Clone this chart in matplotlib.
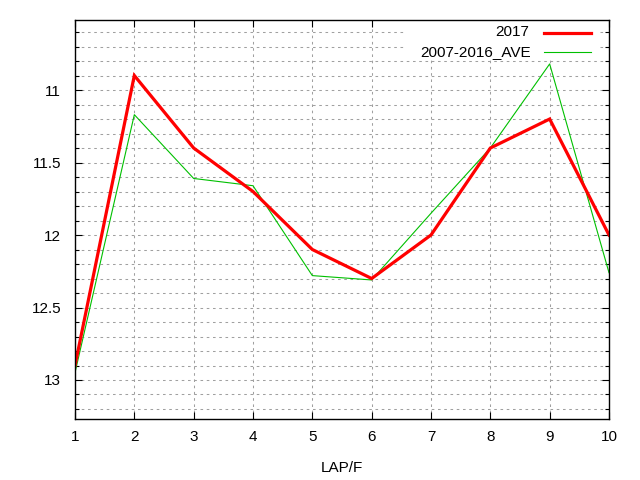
import numpy as np
import matplotlib.pyplot as plt
from matplotlib.ticker import MultipleLocator
from matplotlib.patches import Rectangle

plt.rcParams['font.family'] = ['Liberation Sans', 'DejaVu Sans']

# lap times per lap
laps = [1, 2, 3, 4, 5, 6, 7, 8, 9, 10]
y2017 = [12.9, 10.9, 11.4, 11.7, 12.1, 12.3, 12.0, 11.4, 11.2, 12.0]
yave = [12.95, 11.17, 11.61, 11.66, 12.28, 12.31, 11.85, 11.40, 10.82, 12.26]
labels = ['2017', '2007-2016_AVE']

fig = plt.figure(figsize=(6.4, 4.8), dpi=100)
ax = fig.add_axes([75/640, 1-419/480, 534/640, 399/480])

ax.plot(laps, y2017, color='#ff0000', lw=2.3, zorder=4, solid_joinstyle='miter')
ax.plot(laps, yave, color='#00c000', lw=0.8, zorder=3)

ax.set_xlim(1, 10)
ax.set_ylim(13.269, 10.517)
ax.xaxis.set_major_locator(MultipleLocator(1))
ax.yaxis.set_major_locator(MultipleLocator(0.5))
ax.yaxis.set_minor_locator(MultipleLocator(0.1))
ax.yaxis.set_major_formatter(plt.FuncFormatter(lambda v, p: '%g' % v))

ax.tick_params(which='both', direction='in', top=True, right=True, labelsize=11, colors='black')
ax.tick_params(which='major', length=5, width=0.8)
ax.tick_params(which='minor', length=3, width=0.8)
ax.tick_params(axis='y', pad=10)
ax.tick_params(axis='x', pad=8)

grid_kw = dict(color='#a0a0a0', linestyle=(0, (2.5, 3.5)), linewidth=0.75)
ax.grid(True, which='major', axis='x', **grid_kw)
ax.grid(True, which='both', axis='y', **grid_kw)
ax.set_axisbelow(True)
for s in ax.spines.values():
    s.set_linewidth(1.0)
    s.set_zorder(6)

ax.set_xlabel('LAP/F', fontsize=11, labelpad=12)

# opaque key box, gnuplot style
ax.add_patch(Rectangle((0.616, 0.907), 0.363, 0.093, transform=ax.transAxes,
                       facecolor='white', edgecolor='none', zorder=2))
ax.text(0.850, 0.970, labels[0], transform=ax.transAxes, ha='right', va='center', fontsize=11, zorder=5)
ax.text(0.854, 0.920, labels[1], transform=ax.transAxes, ha='right', va='center', fontsize=11, zorder=5)
ax.plot([0.878, 0.966], [0.968, 0.968], transform=ax.transAxes, color='#ff0000', lw=2.3, zorder=5)
ax.plot([0.878, 0.966], [0.920, 0.920], transform=ax.transAxes, color='#00c000', lw=0.8, zorder=5)

fig.savefig('out.png', dpi=100, facecolor='white')
